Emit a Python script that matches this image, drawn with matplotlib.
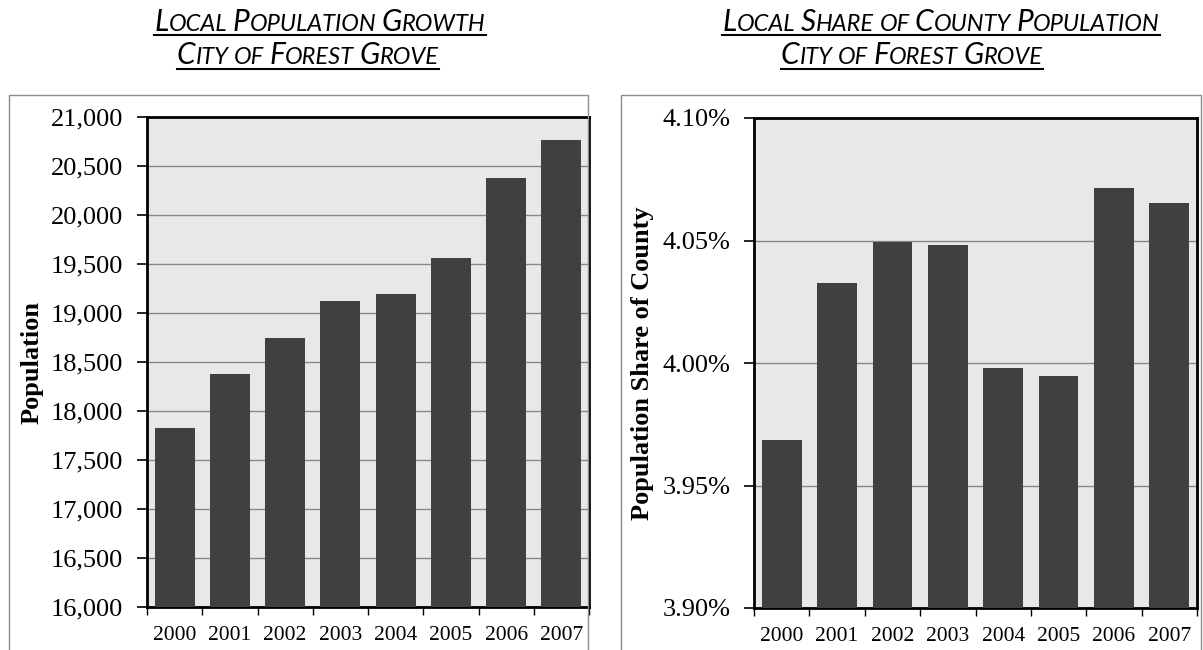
import matplotlib.pyplot as plt
from matplotlib.patches import Rectangle
from matplotlib.lines import Line2D
from matplotlib.ticker import FuncFormatter, FixedLocator

years = ['2000', '2001', '2002', '2003', '2004', '2005', '2006', '2007']
population = [17830, 18381, 18748, 19122, 19194, 19564, 20381, 20765]
county_share = [3.9687, 4.0326, 4.0492, 4.0480, 3.9980, 3.9945, 4.0713, 4.0652]

W, H = 1203, 650
fig = plt.figure(figsize=(W / 100, H / 100), dpi=100)

SERIF = 'Liberation Serif'
TITLE_FONT = 'Lato'
BAR = '#404040'
BG = '#e8e8e8'


def px_box(x0, y0, x1, y1):
    # pixel box (top-left origin) -> figure fraction rect
    return [x0 / W, (H - y1) / H, (x1 - x0) / W, (y1 - y0) / H]


def small_caps(text, cx, baseline, underline, big=21.5, small=17):
    renderer = fig.canvas.get_renderer()
    pieces = []
    for i, word in enumerate(text.split(' ')):
        if i:
            pieces.append((' ', small))
        rest = word
        if word[0].isupper():
            pieces.append((word[0], big))
            rest = word[1:]
        if rest:
            pieces.append((rest.upper(), small))
    arts, widths = [], []
    for s, size in pieces:
        if s == ' ':
            arts.append(None)
            widths.append(size * 0.32)
            continue
        t = fig.text(0, (H - baseline) / H, s, fontsize=size, style='italic',
                     family=TITLE_FONT, ha='left', va='baseline', color='black')
        arts.append(t)
        widths.append(t.get_window_extent(renderer).width)
    total = sum(widths)
    x = cx - total / 2
    for t, w in zip(arts, widths):
        if t is not None:
            t.set_x(x / W)
        x += w
    x0, x1 = cx - total / 2, cx + total / 2
    fig.add_artist(Line2D([x0 / W, x1 / W], [(H - underline) / H] * 2,
                          transform=fig.transFigure, color='black', lw=1.5))


def panel(box, axbox, values, ylim, yticks, fmt, ylabel, ylabel_x):
    fig.add_artist(Rectangle((box[0], box[1]), box[2], box[3],
                             transform=fig.transFigure, fill=False,
                             edgecolor='#8c8c8c', lw=1.0))
    ax = fig.add_axes(axbox)
    ax.set_facecolor(BG)
    x = list(range(len(years)))
    ax.bar(x, values, width=0.72, color=BAR, zorder=3)
    ax.set_xlim(-0.5, len(years) - 0.5)
    ax.set_ylim(*ylim)
    ax.set_yticks(yticks)
    ax.yaxis.set_major_formatter(FuncFormatter(fmt))
    ax.grid(axis='y', color='#888888', lw=1.0, zorder=1)
    ax.set_axisbelow(True)
    for sp in ax.spines.values():
        sp.set_color('black')
        sp.set_linewidth(2)
    ax.tick_params(axis='y', direction='out', length=7, width=1.2, pad=10,
                   labelsize=19, labelfontfamily=SERIF)
    # boundary ticks without labels, year labels at bar centres
    ax.xaxis.set_major_locator(FixedLocator([i - 0.5 for i in range(len(years) + 1)]))
    ax.xaxis.set_minor_locator(FixedLocator(x))
    ax.set_xticklabels([], minor=False)
    ax.set_xticklabels(years, minor=True)
    ax.tick_params(axis='x', which='major', direction='out', length=6, width=1.0)
    ax.tick_params(axis='x', which='minor', length=0, pad=14, labelsize=15.5,
                   labelfontfamily=SERIF)
    cy = H - (axbox[1] + axbox[3] / 2) * H
    fig.text(ylabel_x / W, (H - cy) / H, ylabel, rotation=90, ha='center',
             va='center', fontsize=19, fontweight='bold', family=SERIF)
    return ax


box_l = px_box(9, 95, 588, 660)
box_r = px_box(621, 95, 1201, 660)
ax1 = panel(box_l, px_box(147, 117, 589, 607), population, (16000, 21000),
            range(16000, 21001, 500), lambda v, p: f'{v:,.0f}',
            'Population', 32)
ax2 = panel(box_r, px_box(754, 118, 1197, 608), county_share, (3.90, 4.10),
            [3.90, 3.95, 4.00, 4.05, 4.10], lambda v, p: f'{v:.2f}%',
            'Population Share of County', 642)

small_caps('Local Population Growth', 320, 31, 35)
small_caps('City of Forest Grove', 308, 64, 69)
small_caps('Local Share of County Population', 941, 31, 35)
small_caps('City of Forest Grove', 912, 64, 69)

plt.savefig('out.png', dpi=100)
